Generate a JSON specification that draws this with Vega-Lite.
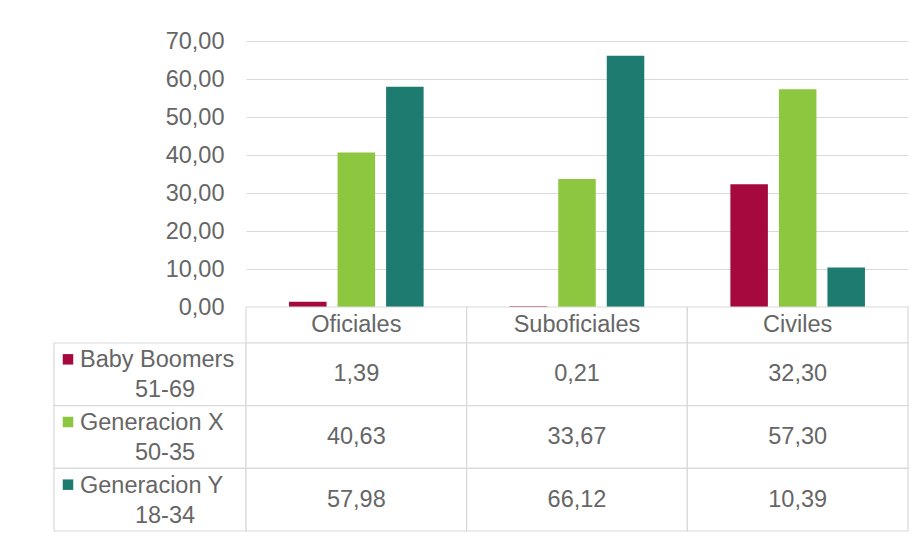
{
  "$schema": "https://vega.github.io/schema/vega-lite/v6.json",
  "padding": {"left": 53, "top": 29, "right": 0, "bottom": 0},
  "background": "white",
  "datasets": {
    "vals": [
      {"categoria": "Oficiales", "generacion": "Baby Boomers", "edad": "51-69", "valor": 1.39},
      {"categoria": "Oficiales", "generacion": "Generacion X", "edad": "50-35", "valor": 40.63},
      {"categoria": "Oficiales", "generacion": "Generacion Y", "edad": "18-34", "valor": 57.98},
      {"categoria": "Suboficiales", "generacion": "Baby Boomers", "edad": "51-69", "valor": 0.21},
      {"categoria": "Suboficiales", "generacion": "Generacion X", "edad": "50-35", "valor": 33.67},
      {"categoria": "Suboficiales", "generacion": "Generacion Y", "edad": "18-34", "valor": 66.12},
      {"categoria": "Civiles", "generacion": "Baby Boomers", "edad": "51-69", "valor": 32.3},
      {"categoria": "Civiles", "generacion": "Generacion X", "edad": "50-35", "valor": 57.3},
      {"categoria": "Civiles", "generacion": "Generacion Y", "edad": "18-34", "valor": 10.39}
    ]
  },
  "columns": 2,
  "spacing": 0,
  "bounds": "flush",
  "concat": [
    {
      "width": 192,
      "height": 266,
      "data": {"values": []},
      "mark": "rect"
    },
    {
      "width": 662,
      "height": 266,
      "data": {"name": "vals"},
      "mark": {"type": "bar"},
      "encoding": {
        "x": {
          "field": "categoria",
          "type": "nominal",
          "sort": ["Oficiales", "Suboficiales", "Civiles"],
          "scale": {"paddingInner": 0, "paddingOuter": 0},
          "axis": null
        },
        "xOffset": {
          "field": "generacion",
          "type": "nominal",
          "sort": ["Baby Boomers", "Generacion X", "Generacion Y"],
          "scale": {"paddingInner": 0.227, "paddingOuter": 0.887}
        },
        "y": {
          "field": "valor",
          "type": "quantitative",
          "scale": {"domain": [0, 70]},
          "axis": {
            "values": [0, 10, 20, 30, 40, 50, 60, 70],
            "format": ".2f",
            "title": null,
            "domain": false,
            "ticks": false,
            "labelPadding": 22,
            "labelFont": "Liberation Sans",
            "labelFontSize": 23.5,
            "labelColor": "#666666",
            "gridColor": "#d9d9d9",
            "gridWidth": 1.2
          }
        },
        "color": {
          "field": "generacion",
          "scale": {"domain": ["Baby Boomers", "Generacion X", "Generacion Y"], "range": ["#a6093d", "#8dc63f", "#1d7b6f"]},
          "legend": null
        }
      }
    },
    {
      "width": 192,
      "height": 36,
      "data": {"values": []},
      "mark": "rect"
    },
    {
      "width": 662,
      "height": 36,
      "data": {"name": "vals"},
      "transform": [{"filter": "datum.generacion == 'Baby Boomers'"}],
      "encoding": {
        "x": {
          "field": "categoria",
          "type": "nominal",
          "sort": ["Oficiales", "Suboficiales", "Civiles"],
          "scale": {"paddingInner": 0, "paddingOuter": 0},
          "axis": null
        }
      },
      "layer": [
        {"mark": {"type": "rect", "fill": "white", "stroke": "#d9d9d9", "strokeWidth": 1.2}},
        {
          "mark": {"type": "text", "font": "Liberation Sans", "fontSize": 23.5, "color": "#666666", "dy": 0},
          "encoding": {"text": {"field": "categoria"}}
        }
      ]
    },
    {
      "width": 192,
      "height": 188,
      "data": {"name": "vals"},
      "transform": [{"filter": "datum.categoria == 'Oficiales'"}],
      "encoding": {
        "y": {
          "field": "generacion",
          "type": "nominal",
          "sort": ["Baby Boomers", "Generacion X", "Generacion Y"],
          "scale": {"paddingInner": 0, "paddingOuter": 0},
          "axis": null
        }
      },
      "layer": [
        {"mark": {"type": "rect", "fill": "white", "stroke": "#d9d9d9", "strokeWidth": 1.2}},
        {
          "mark": {"type": "point", "shape": "square", "filled": true, "opacity": 1, "size": 110, "xOffset": -82, "yOffset": -15},
          "encoding": {
            "color": {
              "field": "generacion",
              "scale": {"domain": ["Baby Boomers", "Generacion X", "Generacion Y"], "range": ["#a6093d", "#8dc63f", "#1d7b6f"]},
              "legend": null
            }
          }
        },
        {
          "mark": {"type": "text", "font": "Liberation Sans", "fontSize": 23.5, "color": "#666666", "align": "left", "dx": -70, "dy": -14},
          "encoding": {"text": {"field": "generacion"}}
        },
        {
          "mark": {"type": "text", "font": "Liberation Sans", "fontSize": 23.5, "color": "#666666", "dx": 15, "dy": 16},
          "encoding": {"text": {"field": "edad"}}
        }
      ]
    },
    {
      "width": 662,
      "height": 188,
      "data": {"name": "vals"},
      "encoding": {
        "x": {
          "field": "categoria",
          "type": "nominal",
          "sort": ["Oficiales", "Suboficiales", "Civiles"],
          "scale": {"paddingInner": 0, "paddingOuter": 0},
          "axis": null
        },
        "y": {
          "field": "generacion",
          "type": "nominal",
          "sort": ["Baby Boomers", "Generacion X", "Generacion Y"],
          "scale": {"paddingInner": 0, "paddingOuter": 0},
          "axis": null
        }
      },
      "layer": [
        {"mark": {"type": "rect", "fill": "white", "stroke": "#d9d9d9", "strokeWidth": 1.2}},
        {
          "mark": {"type": "text", "font": "Liberation Sans", "fontSize": 23.5, "color": "#666666"},
          "encoding": {"text": {"field": "valor", "type": "quantitative", "format": ".2f"}}
        }
      ]
    }
  ],
  "config": {
    "view": {"stroke": null},
    "locale": {
      "number": {"decimal": ",", "thousands": ".", "grouping": [3], "currency": ["", " €"]}
    }
  }
}
